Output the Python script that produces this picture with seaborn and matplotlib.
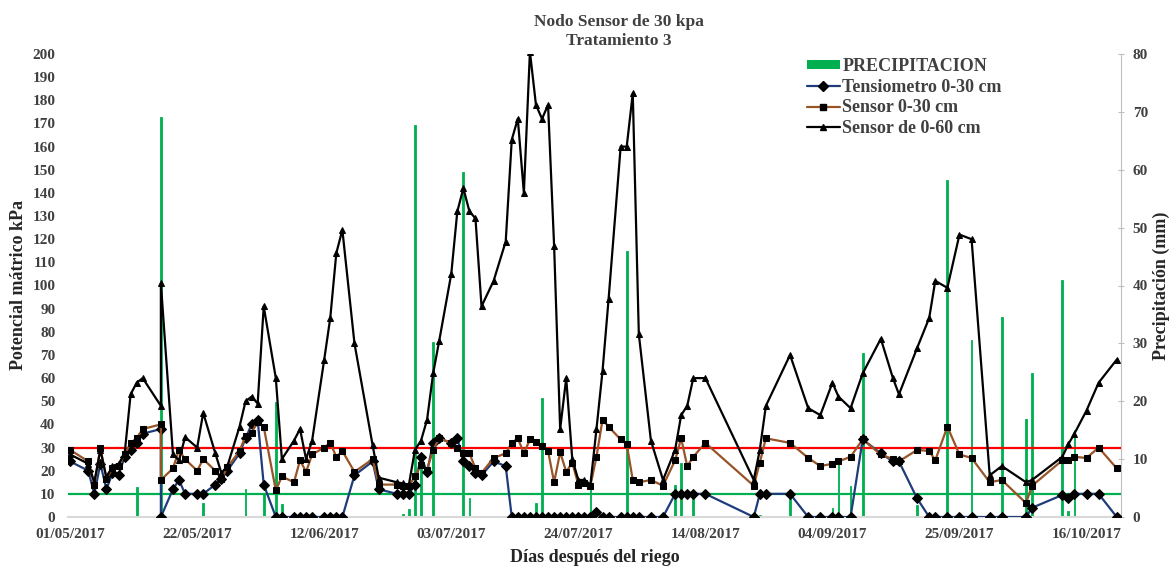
import pandas as pd
import matplotlib
matplotlib.use("Agg")
from matplotlib import pyplot as plt
from matplotlib.lines import Line2D
from matplotlib.patches import Patch
import matplotlib.dates as mdates
import seaborn as sns

inicio = pd.Timestamp("2017-05-01")

# dias desde el 01/05/2017 de cada lectura (15 aparece dos veces: antes y despues del riego)
dias = [0, 3, 4, 5, 6, 7, 8, 9, 10, 11,
        12, 15, 15, 17, 18, 19, 21, 22, 24, 25,
        26, 28, 29, 30, 31, 32, 34, 35, 37, 38,
        39, 40, 42, 43, 44, 45, 47, 50, 51, 54,
        55, 56, 57, 58, 59, 60, 61, 63, 64, 65,
        66, 67, 68, 70, 72, 73, 74, 75, 76, 77,
        78, 79, 80, 81, 82, 83, 84, 85, 86, 87,
        88, 89, 91, 92, 93, 94, 96, 98, 100, 101,
        102, 103, 105, 113, 114, 115, 119, 122, 124, 126,
        127, 129, 131, 134, 136, 137, 140, 142, 143, 145,
        147, 149, 152, 154, 158, 159, 164, 165, 166, 168,
        170, 173]

tensiometro = [24, 20, 10, 23, 12, 19, 18, 26, 29, 32,
               36, 38, 0, 12, 16, 10, 10, 10, 14, 16.5,
               20, 27.5, 34, 40, 42, 14, 0, 0, 0, 0,
               0, 0, 0, 0, 0, 0, 18, 24, 12, 10,
               10, 10, 14, 26, 19.5, 32, 34, 32, 34, 24,
               22, 19, 18, 24, 22, 0, 0, 0, 0, 0,
               0, 0, 0, 0, 0, 0, 0, 0, 0, 2,
               0, 0, 0, 0, 0, 0, 0, 0, 10, 10,
               10, 10, 10, 0, 10, 10, 10, 0, 0, 0,
               0, 0, 33.5, 27.5, 24, 24, 8, 0, 0, 0,
               0, 0, 0, 0, 0, 4, 9.5, 8, 10, 10,
               10, 0]

sensor_30 = [29, 24, 14, 30, 16.5, 21, 22, 27, 32, 34,
             38, 40, 16, 21, 29, 25, 20, 25, 20, 16.5,
             21.5, 28.5, 35, 36.5, 41, 39, 11.5, 17.5, 15, 24.5,
             19.5, 27, 30, 32, 26, 28.5, 19.5, 25, 14, 14,
             13.5, 13.5, 17.5, 22.5, 20.5, 29, 34, 32, 30, 27.5,
             27.5, 21, 19, 25.5, 27.5, 32, 34, 27.5, 33.5, 32.5,
             30.5, 28.5, 15, 28, 19.5, 23.5, 14, 14.5, 13.5, 26,
             42, 39, 33.5, 31.5, 16, 15, 16, 13.5, 24.5, 34,
             22, 26, 32, 13.5, 23.5, 34, 32, 25.5, 22, 23,
             24, 26, 33.5, 27, 25, 24, 29, 28.5, 24.5, 39,
             27, 25.5, 15, 16, 6, 13.5, 24.5, 24.5, 26, 25.5,
             30, 21]

sensor_60 = [27, 23, 15, 29, 17, 22, 23, 27, 53, 58,
             60, 48, 101, 27, 24.5, 34.5, 30, 45, 27.5, 19,
             22, 39, 50, 52, 49, 91, 60, 25, 33, 38,
             25, 33, 68, 86, 114, 124, 75, 31, 17, 15,
             14.5, 14, 29, 33, 42, 62, 76, 105, 132, 142,
             132, 129, 91, 102, 119, 163, 172, 140, 201, 178,
             172, 178, 117, 38, 60, 25, 16, 16, 14, 38,
             63, 94, 160, 160, 183, 79, 33, 16, 29, 44,
             48, 60, 60, 16, 29, 48, 70, 47, 44, 58,
             52, 47, 62, 77, 60, 53, 73, 86, 102, 99,
             122, 120, 18, 22, 15, 16, 26, 31.5, 36, 46,
             58, 68]

# precipitacion (mm)
lluvia_dias = [11, 15, 22, 29, 32, 34, 35, 55, 56, 57, 58, 60, 65, 66, 77, 78,
               86, 92, 100, 101, 103, 113, 114, 119, 126, 127, 129, 131, 140,
               145, 149, 154, 158, 159, 164, 165, 166]
lluvia_mm = [5.2, 69.2, 2.4, 4.8, 4.0, 19.9, 2.2, 0.6, 1.3, 67.7, 9.5, 30.3,
             59.6, 3.2, 2.5, 20.5, 7.0, 46, 5.5, 9.3, 3.8, 0.6, 0.4, 3.8, 1.5,
             9.4, 5.4, 28.3, 2.1, 58.2, 30.6, 34.5, 17, 24.9, 40.9, 1.1, 15.1]

df = pd.DataFrame({
    "fecha": inicio + pd.to_timedelta(dias, unit="D"),
    "tens": tensiometro,
    "s30": sensor_30,
    "s60": sensor_60,
})
lluvia = pd.DataFrame({
    "fecha": inicio + pd.to_timedelta(lluvia_dias, unit="D"),
    "mm": lluvia_mm,
})

sns.set_style("white")
plt.rcParams["font.family"] = ["Liberation Serif", "DejaVu Serif"]
plt.rcParams["font.weight"] = "bold"

verde = "#00b050"
azul = "#1f3c7a"
cafe = "#985426"
gris = "#404040"

fig = plt.figure(figsize=(11.74, 5.67), dpi=100)
ax = fig.add_axes([68 / 1174, 1 - 517 / 567, (1121 - 68) / 1174, (517 - 54) / 567])
ax2 = ax.twinx()

ax2.bar(lluvia["fecha"], lluvia["mm"], width=0.3, color=verde,
        edgecolor=verde, linewidth=0.6, zorder=1)

ax.axhline(30, color="#ff0000", lw=1.6, zorder=2)
ax.axhline(10, color=verde, lw=1.6, zorder=2)

sns.lineplot(data=df, x="fecha", y="tens", ax=ax, estimator=None, sort=False,
             color=azul, lw=1.6, marker="D", markersize=5,
             markerfacecolor="black", markeredgecolor="black", zorder=3)
sns.lineplot(data=df, x="fecha", y="s30", ax=ax, estimator=None, sort=False,
             color=cafe, lw=1.6, marker="s", markersize=5,
             markerfacecolor="black", markeredgecolor="black", zorder=4)
sns.lineplot(data=df, x="fecha", y="s60", ax=ax, estimator=None, sort=False,
             color="black", lw=1.6, marker="^", markersize=5,
             markerfacecolor="black", markeredgecolor="black", zorder=5)

ax.set_zorder(ax2.get_zorder() + 1)
ax.patch.set_visible(False)

x0 = inicio - pd.Timedelta(days=0.35)
x1 = inicio + pd.Timedelta(days=173.7)
ax.set_xlim(x0, x1)
ax.set_ylim(0, 200)
ax2.set_ylim(0, 80)

ax.set_yticks(range(0, 201, 10))
ax2.set_yticks(range(0, 81, 10))
ax.set_xticks(inicio + pd.to_timedelta(list(range(0, 169, 21)), unit="D"))
ax.xaxis.set_major_formatter(mdates.DateFormatter("%d/%m/%Y"))

for a in (ax, ax2):
    for s in a.spines.values():
        s.set_visible(False)
ax.spines["bottom"].set_visible(True)
ax.spines["bottom"].set_color("#d9d9d9")
ax.spines["bottom"].set_linewidth(1.5)
ax2.spines["right"].set_visible(True)
ax2.spines["right"].set_color("#bfbfbf")

ax.tick_params(axis="y", length=0, pad=9, labelsize=11, labelcolor=gris)
ax.tick_params(axis="x", length=0, pad=8, labelsize=11, labelcolor=gris)
ax2.tick_params(axis="y", direction="inout", length=5, color="#bfbfbf",
                pad=6, labelsize=11, labelcolor=gris)
for lab in ax.get_xticklabels() + ax.get_yticklabels() + ax2.get_yticklabels():
    lab.set_fontweight("bold")

ax.set_xlabel("Días después del riego", fontsize=13, fontweight="bold", labelpad=6)
ax.set_ylabel("Potencial mátrico kPa", fontsize=13, fontweight="bold", labelpad=4)
ax2.set_ylabel("Precipitación (mm)", fontsize=13, fontweight="bold", labelpad=3)

fig.text(0.527, 0.975, "Nodo Sensor de 30 kpa\nTratamiento 3", ha="center", va="top",
         fontsize=12.5, fontweight="bold", color=gris, linespacing=1.25)

handles = [
    Patch(facecolor=verde, edgecolor="none"),
    Line2D([], [], color=azul, lw=1.6, marker="D", markersize=5, mfc="black", mec="black"),
    Line2D([], [], color=cafe, lw=1.6, marker="s", markersize=5, mfc="black", mec="black"),
    Line2D([], [], color="black", lw=1.6, marker="^", markersize=5, mfc="black", mec="black"),
]
labels = ["PRECIPITACION", "Tensiometro 0-30 cm", "Sensor 0-30 cm", "Sensor de 0-60 cm"]
leg = fig.legend(handles, labels, loc="upper left", bbox_to_anchor=(798 / 1174, 1 - 49 / 567),
                 frameon=False, fontsize=13, handlelength=1.8, handleheight=0.45,
                 handletextpad=0.15, labelspacing=0.2, borderpad=0)
for t in leg.get_texts():
    t.set_color(gris)
    t.set_fontweight("bold")

fig.savefig("out.png", dpi=100)
